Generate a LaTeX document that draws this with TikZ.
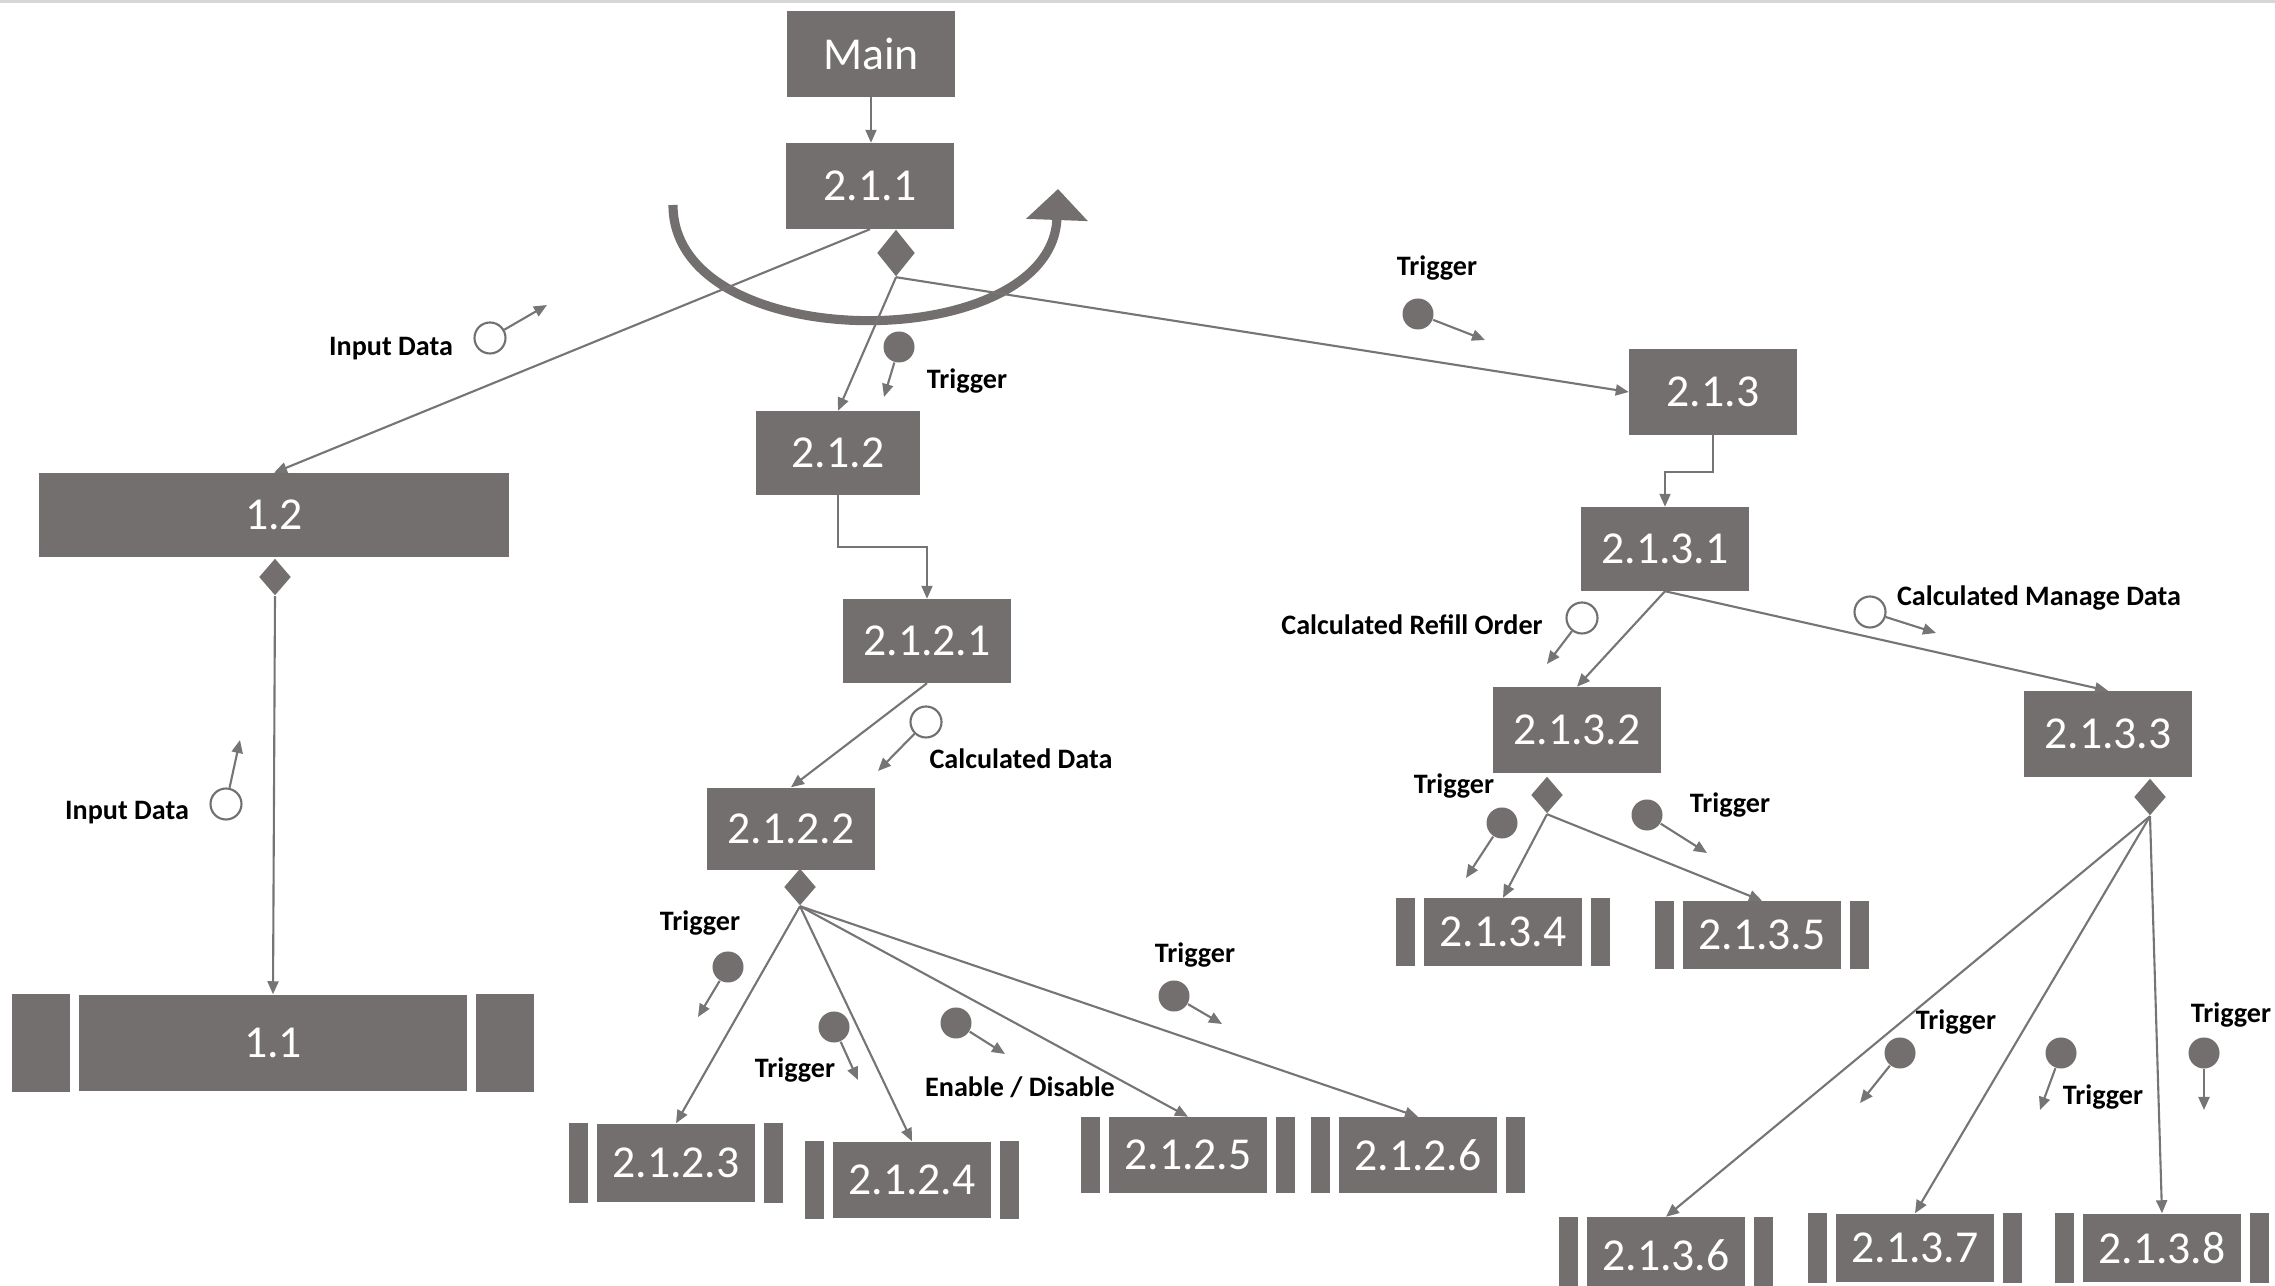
\documentclass[tikz,border=0pt]{standalone}
\usepackage{fontspec}
\setmainfont{Carlito}
\usetikzlibrary{shapes.geometric, arrows.meta}

\definecolor{boxgray}{RGB}{115,111,110}
\definecolor{linegray}{RGB}{118,116,116}
\definecolor{topgray}{RGB}{214,214,214}

\tikzset{
  proc/.style={fill=boxgray, text=white, inner sep=0pt, minimum width=1.67cm, minimum height=0.85cm, font=\fontsize{13}{15}\selectfont},
  subproc/.style={proc, minimum width=1.57cm, minimum height=0.76cm},
  gate/.style={diamond, fill=boxgray, inner sep=0pt, minimum width=0.32cm, minimum height=0.37cm},
  flow/.style={draw=linegray, line width=0.6pt, -{Triangle[length=1.3mm, width=1.1mm]}},
  turnarrow/.style={draw=boxgray, line width=2.6pt, -{Triangle[length=3.1mm, width=6mm]}},
  trig/.style={circle, fill=boxgray, inner sep=0pt, minimum size=0.31cm},
  datum/.style={circle, draw=boxgray, fill=white, line width=0.6pt, inner sep=0pt, minimum size=0.31cm},
  lbl/.style={font=\bfseries\fontsize{8}{9}\selectfont, inner sep=1pt}
}

\begin{document}
\begin{tikzpicture}[x=0.01cm, y=-0.01cm]
\useasboundingbox (0,0) rectangle (2275,1286);
\draw[topgray, line width=1.2pt] (0,1) -- (2275,1);

% loop arrow round 2.1.1
\coordinate (LoopStart) at (673,205);
\coordinate (LoopEnd) at (1058,189);
\draw[turnarrow] (LoopStart) .. controls (673,358) and (1052,356) .. (LoopEnd);

% processes
\node[proc] (Main) at (871,54) {Main};
\node[proc] (P211) at (870,186) {2.1.1};
\node[proc, minimum width=1.64cm, minimum height=0.83cm] (P212) at (838,453) {2.1.2};
\node[proc, minimum height=0.83cm] (P2121) at (927,641) {2.1.2.1};
\node[proc, minimum height=0.82cm] (P2122) at (791,829) {2.1.2.2};
\node[proc] (P213) at (1713,392) {2.1.3};
\node[proc, minimum height=0.83cm] (P2131) at (1665,549) {2.1.3.1};
\node[proc] (P2132) at (1577,730) {2.1.3.2};
\node[proc] (P2133) at (2108,734) {2.1.3.3};
\node[proc, minimum width=4.70cm, minimum height=0.83cm] (P12) at (274,515) {1.2};
\node[proc, minimum width=3.88cm, minimum height=0.96cm] (P11) at (273,1043) {1.1};

\node[subproc, minimum height=0.78cm] (P2123) at (676,1163) {2.1.2.3};
\node[subproc] (P2124) at (912,1180) {2.1.2.4};
\node[subproc, minimum height=0.75cm] (P2125) at (1188,1155) {2.1.2.5};
\node[subproc, minimum height=0.75cm] (P2126) at (1418,1155) {2.1.2.6};
\node[subproc, minimum height=0.67cm] (P2134) at (1503,932) {2.1.3.4};
\node[subproc, minimum height=0.67cm] (P2135) at (1762,935) {2.1.3.5};
\node[subproc, minimum height=0.75cm] (P2136) at (1666,1255) {2.1.3.6};
\node[subproc, minimum height=0.68cm] (P2137) at (1915,1248) {2.1.3.7};
\node[subproc, minimum height=0.68cm] (P2138) at (2162,1248) {2.1.3.8};

% side bars
\foreach \n in {P2123,P2124,P2125,P2126,P2134,P2135,P2136,P2137,P2138} {
  \fill[boxgray] ([xshift=-0.85mm]\n.north west) rectangle ([xshift=-2.75mm]\n.south west);
  \fill[boxgray] ([xshift=0.85mm]\n.north east) rectangle ([xshift=2.75mm]\n.south east);
}
\fill[boxgray] ([xshift=-0.8mm]P11.north west) rectangle ([xshift=-6.6mm]P11.south west);
\fill[boxgray] ([xshift=0.8mm]P11.north east) rectangle ([xshift=6.6mm]P11.south east);

% diamonds
\node[gate, minimum width=0.38cm, minimum height=0.47cm] (D211) at (896,253) {};
\node[gate] (D12) at (275,577) {};
\node[gate] (D2122) at (800,887) {};
\node[gate] (D2132) at (1547,795) {};
\node[gate] (D2133) at (2150,797) {};

% flows
\draw[flow] (Main.south) -- (Main.south |- P211.north);
\draw[flow] (P211.south) -- (P12.north);
\draw[flow] (D211.south) -- (P212.north);
\draw[flow] (D211.south) -- (P213.west);
\draw[flow] (P212.south) -- ++(0,52) -| (P2121.north);
\draw[flow] (P2121.south) -- (P2122.north);
\draw[flow] (P213.south) -- ++(0,37) -| (P2131.north);
\draw[flow] (P2131.south) -- (P2132.north);
\draw[flow] (P2131.south) -- (P2133.north);
\draw[flow] (D12.south) -- (P11.north);
\foreach \t in {P2123,P2124,P2125,P2126} \draw[flow] (D2122.south) -- (\t.north);
\foreach \t in {P2134,P2135} \draw[flow] (D2132.south) -- (\t.north);
\foreach \t in {P2136,P2137,P2138} \draw[flow] (D2133.south) -- (\t.north);

% couples
\node[datum] (InA) at (490,338) {};
\coordinate (InAEnd) at (547,305);
\draw[flow] (InA) -- (InAEnd);
\node[lbl] (InALbl) at (391,349) {Input Data};

\node[datum] (InB) at (226,804) {};
\coordinate (InBEnd) at (240,740);
\draw[flow] (InB) -- (InBEnd);
\node[lbl] (InBLbl) at (127,813) {Input Data};

\node[trig] (TrigA) at (899,347) {};
\coordinate (TrigAEnd) at (884,397);
\draw[flow] (TrigA) -- (TrigAEnd);
\node[lbl] (TrigALbl) at (967,381) {Trigger};

\node[trig] (TrigB) at (1418,314) {};
\coordinate (TrigBEnd) at (1485,340);
\draw[flow] (TrigB) -- (TrigBEnd);
\node[lbl] (TrigBLbl) at (1437,268) {Trigger};

\node[datum] (CalcA) at (926,722) {};
\coordinate (CalcAEnd) at (878,771);
\draw[flow] (CalcA) -- (CalcAEnd);
\node[lbl] (CalcALbl) at (1021,759) {Calculated Data};

\node[trig] (TrigC) at (728,967) {};
\coordinate (TrigCEnd) at (698,1017);
\draw[flow] (TrigC) -- (TrigCEnd);
\node[lbl] (TrigCLbl) at (700,923) {Trigger};

\node[trig] (TrigD) at (834,1027) {};
\coordinate (TrigDEnd) at (858,1080);
\draw[flow] (TrigD) -- (TrigDEnd);
\node[lbl] (TrigDLbl) at (795,1070) {Trigger};

\node[trig] (TrigE) at (956,1023) {};
\coordinate (TrigEEnd) at (1005,1054);
\draw[flow] (TrigE) -- (TrigEEnd);
\node[lbl] (TrigELbl) at (1020,1087) {Enable / Disable};

\node[trig] (TrigF) at (1174,996) {};
\coordinate (TrigFEnd) at (1222,1024);
\draw[flow] (TrigF) -- (TrigFEnd);
\node[lbl] (TrigFLbl) at (1195,955) {Trigger};

\node[datum] (CalcB) at (1582,618) {};
\coordinate (CalcBEnd) at (1547,664);
\draw[flow] (CalcB) -- (CalcBEnd);
\node[lbl] (CalcBLbl) at (1412,625) {Calculated Refill Order};

\node[datum] (CalcC) at (1870,612) {};
\coordinate (CalcCEnd) at (1936,633);
\draw[flow] (CalcC) -- (CalcCEnd);
\node[lbl] (CalcCLbl) at (2039,598) {Calculated Manage Data};

\node[trig] (TrigG) at (1502,823) {};
\coordinate (TrigGEnd) at (1466,878);
\draw[flow] (TrigG) -- (TrigGEnd);
\node[lbl] (TrigGLbl) at (1454,786) {Trigger};

\node[trig] (TrigH) at (1647,815) {};
\coordinate (TrigHEnd) at (1707,853);
\draw[flow] (TrigH) -- (TrigHEnd);
\node[lbl] (TrigHLbl) at (1730,805) {Trigger};

\node[trig] (TrigI) at (1900,1053) {};
\coordinate (TrigIEnd) at (1860,1103);
\draw[flow] (TrigI) -- (TrigIEnd);
\node[lbl] (TrigILbl) at (1956,1022) {Trigger};

\node[trig] (TrigJ) at (2061,1053) {};
\coordinate (TrigJEnd) at (2040,1110);
\draw[flow] (TrigJ) -- (TrigJEnd);
\node[lbl] (TrigJLbl) at (2103,1097) {Trigger};

\node[trig] (TrigK) at (2204,1053) {};
\coordinate (TrigKEnd) at (2204,1110);
\draw[flow] (TrigK) -- (TrigKEnd);
\node[lbl] (TrigKLbl) at (2231,1015) {Trigger};
\end{tikzpicture}
\end{document}
